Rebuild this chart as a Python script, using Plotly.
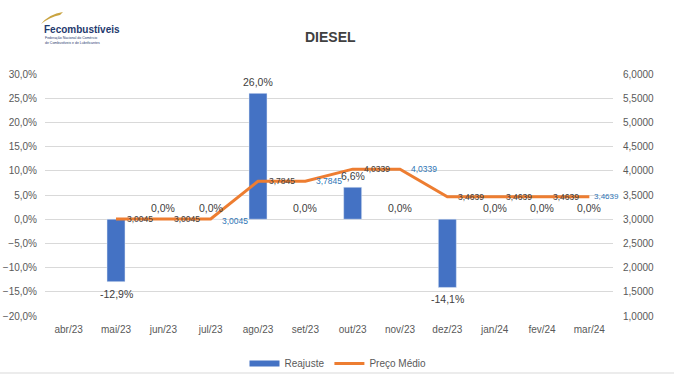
import plotly.graph_objects as go

categories = ["abr/23", "mai/23", "jun/23", "jul/23", "ago/23", "set/23",
              "out/23", "nov/23", "dez/23", "jan/24", "fev/24", "mar/24"]
reajuste = [None, -12.9, 0.0, 0.0, 26.0, 0.0, 6.6, 0.0, -14.1, 0.0, 0.0, 0.0]
preco = [None, 3.0045, 3.0045, 3.0045, 3.7845, 3.7845, 4.0339, 4.0339,
         3.4639, 3.4639, 3.4639, 3.4639]
preco_label_colors = [None, "#404040", "#404040", "#2E75B6", "#404040", "#2E75B6",
                      "#404040", "#2E75B6", "#404040", "#404040", "#404040", "#2E75B6"]

BLUE = "#4472C4"
ORANGE = "#ED7D31"
GRID = "#D9D9D9"
TXT = "#595959"
FONT = "Liberation Sans"

W, H = 674, 377
ML, MR, MT, MB = 45, 61, 74, 61
plot_w = W - ML - MR
plot_h = H - MT - MB


def px(xp, yp):
    return (xp - ML) / plot_w, (H - MB - yp) / plot_h


fig = go.Figure()
fig.add_trace(go.Bar(
    x=categories, y=reajuste, name="Reajuste", marker_color=BLUE,
    width=0.38, yaxis="y", hoverinfo="skip", showlegend=False))

fig.add_trace(go.Scatter(
    x=categories, y=preco, name="Preço Médio", yaxis="y2",
    mode="lines", line=dict(color=ORANGE, width=3),
    hoverinfo="skip", showlegend=False))

# legend entries (wide swatches like the original)
fig.add_trace(go.Scatter(x=[None], y=[None], mode="lines", name="Reajuste",
                         line=dict(color=BLUE, width=6), legendrank=1))
fig.add_trace(go.Scatter(x=[None], y=[None], mode="lines", name="Preço Médio",
                         line=dict(color=ORANGE, width=3), legendrank=2))

annotations = []
for c, v in zip(categories, reajuste):
    if v is None:
        continue
    txt = f"{v:.1f}".replace(".", ",") + "%"
    ys = 11 if v >= 0 else -12
    annotations.append(dict(x=c, y=v, xref="x", yref="y", text=txt,
                            showarrow=False, yshift=ys,
                            font=dict(size=10.5, family=FONT, color="#404040")))

last = categories[-1]
for c, v, col in zip(categories, preco, preco_label_colors):
    if v is None:
        continue
    txt = f"{v:.4f}".replace(".", ",")
    annotations.append(dict(x=c, y=v, xref="x", yref="y2", text=txt,
                            showarrow=False, xanchor="left",
                            xshift=3 if c == last else 9,
                            yshift=-2 if c == "jul/23" else 0,
                            font=dict(size=8.5 if c != last else 8, family=FONT, color=col)))

tx, ty = px(330, 37)
annotations.append(dict(x=tx, y=ty, xref="paper", yref="paper", text="<b>DIESEL</b>",
                        xanchor="center", yanchor="middle",
                        showarrow=False, font=dict(size=14, family=FONT, color="#404040")))

lx, ly = px(42, 30)
annotations.append(dict(x=lx, y=ly, xref="paper", yref="paper", xanchor="left", yanchor="middle",
                        text="<b>Fecombustíveis</b>", showarrow=False,
                        font=dict(size=10, family=FONT, color="#1F3A6E")))
sx, sy = px(43, 41)
annotations.append(dict(x=sx, y=sy, xref="paper", yref="paper", xanchor="left", yanchor="middle",
                        text="Federação Nacional do Comércio<br>de Combustíveis e de Lubrificantes",
                        showarrow=False, align="left",
                        font=dict(size=3.5, family=FONT, color="#1F3A6E")))

lgx, lgy = px(338, 349)
fig.update_layout(
    width=W, height=H,
    margin=dict(l=ML, r=MR, t=MT, b=MB, autoexpand=False),
    paper_bgcolor="white", plot_bgcolor="white",
    separators=",.",
    font=dict(family=FONT, color=TXT, size=10),
    showlegend=True,
    legend=dict(orientation="h", x=lgx, xanchor="center", y=lgy, yanchor="top",
                font=dict(size=10, family=FONT, color=TXT), itemwidth=30,
                bgcolor="rgba(0,0,0,0)"),
    xaxis=dict(type="category", range=[-0.5, len(categories) - 0.5], autorange=False,
               showgrid=False, showline=False, ticks="",
               ticklabelstandoff=6, tickfont=dict(size=10, color=TXT)),
    yaxis=dict(range=[-20, 30], dtick=5, tickformat=".1f", ticksuffix="%",
               gridcolor=GRID, zeroline=True, zerolinecolor=GRID, zerolinewidth=1,
               showline=False, ticklabelstandoff=7, tickfont=dict(size=10, color=TXT)),
    yaxis2=dict(range=[1, 6], dtick=0.5, tickformat=".4f", overlaying="y", side="right",
                showgrid=False, zeroline=False, showline=False, ticklabelstandoff=9,
                tickfont=dict(size=10, color=TXT)),
    annotations=annotations,
)

# Swoosh decoration of the logo
a = px(41, 24)
b = px(49, 14)
c = px(63, 12)
d = px(60, 15)
e = px(50, 17)
fig.add_shape(type="path", xref="paper", yref="paper",
              path=f"M {a[0]},{a[1]} Q {b[0]},{b[1]} {c[0]},{c[1]} L {d[0]},{d[1]} Q {e[0]},{e[1]} {a[0]},{a[1]} Z",
              fillcolor="#C9A441", line=dict(width=0))
# bottom border line
bl = px(0, 373)
br = px(W, 373)
fig.add_shape(type="line", xref="paper", yref="paper", x0=bl[0], y0=bl[1], x1=br[0], y1=br[1],
              line=dict(color="#D9D9D9", width=1))

fig.write_html("out.html", config={"displayModeBar": False},
               post_script="document.body.style.margin='0';document.body.style.overflow='hidden';")
